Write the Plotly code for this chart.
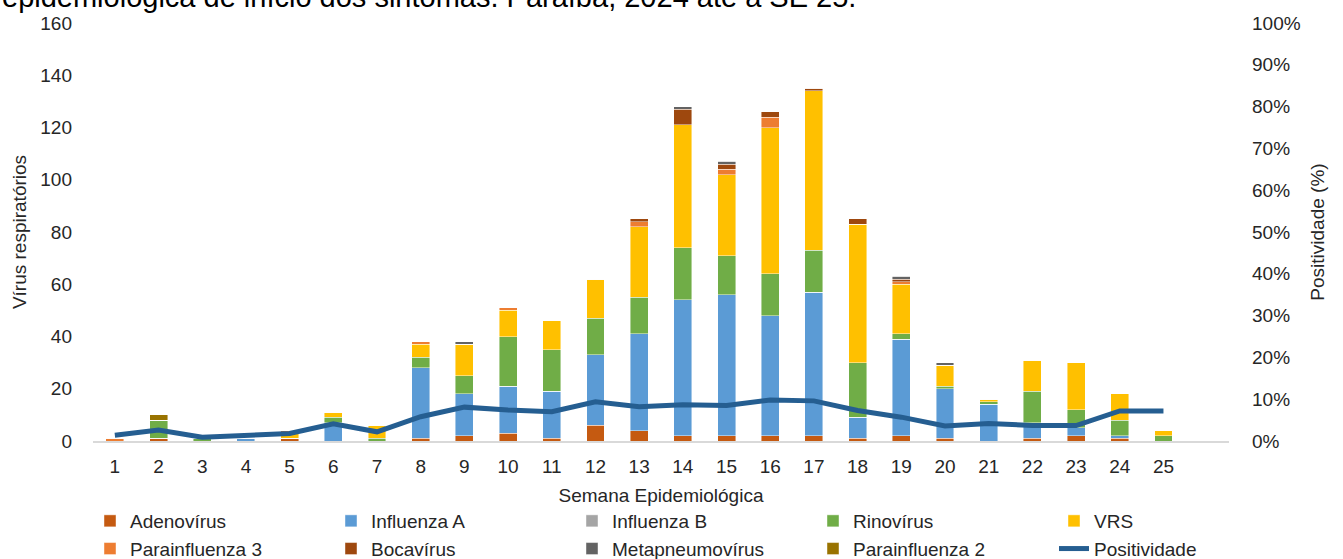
import plotly.graph_objects as go

weeks = list(range(1, 26))
tick_labels = [str(w) for w in weeks]

adenovirus = [0, 1, 0, 0, 1, 0, 0, 1, 2, 3, 1, 6, 4, 2, 2, 2, 2, 1, 2, 1, 0, 1, 2, 1, 0]
influenza_a = [0, 0, 0, 1, 0, 7, 0, 27, 16, 18, 18, 27, 37, 52, 54, 46, 55, 8, 37, 19, 14, 6, 3, 1, 0]
influenza_b = [0] * 25
rinovirus = [0, 7, 1, 0, 0, 2, 1, 4, 7, 19, 16, 14, 14, 20, 15, 16, 16, 21, 2, 1, 1, 12, 7, 6, 2]
vrs = [0, 0, 0, 0, 2, 2, 5, 5, 12, 10, 11, 15, 27, 47, 31, 56, 61, 53, 19, 8, 1, 12, 18, 10, 2]
parainfluenza_3 = [1, 0, 0, 0, 1, 0, 0, 1, 0, 1, 0, 0, 2, 0, 2, 4, 0, 0, 1, 0, 0, 0, 0, 0, 0]
bocavirus = [0, 0, 0, 0, 0, 0, 0, 0, 0, 0, 0, 0, 1, 6, 2, 2, 1, 2, 1, 0, 0, 0, 0, 0, 0]
metapneumovirus = [0, 0, 0, 0, 0, 0, 0, 0, 1, 0, 0, 0, 0, 1, 1, 0, 0, 0, 1, 1, 0, 0, 0, 0, 0]
parainfluenza_2 = [0, 2, 0, 0, 0, 0, 0, 0, 0, 0, 0, 0, 0, 0, 0, 0, 0, 0, 0, 0, 0, 0, 0, 0, 0]
positividade = [1.4, 2.6, 0.9, 1.4, 1.8, 4.1, 2.2, 5.8, 8.1, 7.4, 7.0, 9.4, 8.2, 8.7, 8.5,
                9.8, 9.6, 7.3, 5.7, 3.6, 4.2, 3.7, 3.7, 7.2, 7.2]

series = [
    ("Adenovírus", adenovirus, "#C55A11"),
    ("Influenza A", influenza_a, "#5B9BD5"),
    ("Influenza B", influenza_b, "#A5A5A5"),
    ("Rinovírus", rinovirus, "#70AD47"),
    ("VRS", vrs, "#FFC000"),
    ("Parainfluenza 3", parainfluenza_3, "#ED7D31"),
    ("Bocavírus", bocavirus, "#9E480E"),
    ("Metapneumovírus", metapneumovirus, "#636363"),
    ("Parainfluenza 2", parainfluenza_2, "#997300"),
]

FONT = "Liberation Sans, Arial, sans-serif"
TXT = "#262626"

L, R, T, B = 93, 114, 23, 118
PW = 1343 - L - R
PH = 559 - T - B

fig = go.Figure()
for name, vals, color in series:
    fig.add_trace(go.Bar(
        x=weeks, y=vals, name=name, width=0.41,
        marker=dict(color=color, line=dict(color="rgba(255,255,255,0.55)", width=0.8)),
    ))

fig.add_trace(go.Scatter(
    x=weeks, y=positividade, name="Positividade", yaxis="y2",
    mode="lines", line=dict(color="#255E91", width=5),
))

fig.update_layout(
    width=1343, height=559,
    barmode="stack",
    paper_bgcolor="white", plot_bgcolor="white",
    margin=dict(l=L, r=R, t=T, b=B, autoexpand=False),
    font=dict(family=FONT, size=19, color=TXT),
    xaxis=dict(
        range=[0.5, 26.5], tickmode="array", tickvals=weeks, ticktext=tick_labels,
        showline=True, linecolor="#D9D9D9", linewidth=1.5, showgrid=False,
        ticks="", ticklabelstandoff=7, zeroline=False, automargin=True,
        title=dict(text="Semana Epidemiológica", standoff=13, font=dict(size=19)),
        tickfont=dict(size=19),
    ),
    yaxis=dict(
        range=[0, 160], dtick=20, showgrid=False, zeroline=False, showline=False,
        ticks="", ticklabelstandoff=20, automargin=True,
        title=dict(text="Vírus respiratórios", standoff=8, font=dict(size=19)),
        tickfont=dict(size=19),
    ),
    yaxis2=dict(
        range=[0, 100], dtick=10, ticksuffix="%", overlaying="y", side="right",
        showgrid=False, zeroline=False, showline=False, ticks="", ticklabelstandoff=22,
        automargin=True,
        title=dict(text="Positividade (%)", standoff=10, font=dict(size=19)),
        tickfont=dict(size=19),
    ),
    legend=dict(
        orientation="h", xref="paper", yref="paper",
        x=(90 - L) / PW, y=(441 - 502) / PH, xanchor="left", yanchor="top",
        entrywidth=196, entrywidthmode="pixels", traceorder="normal",
        font=dict(size=19, color=TXT), tracegroupgap=0,
    ),
    showlegend=True,
    annotations=[dict(
        text="epidemiológica de início dos sintomas. Paraíba, 2024 até a SE 25.",
        xref="paper", yref="paper", x=-L / PW, y=(441 - 15) / PH,
        xanchor="left", yanchor="bottom", showarrow=False,
        font=dict(size=29, color="#000000", family=FONT),
    )],
)

fig.write_html(
    "out.html",
    config={"displayModeBar": False},
    post_script="document.body.style.margin='0';document.body.style.padding='0';",
)
